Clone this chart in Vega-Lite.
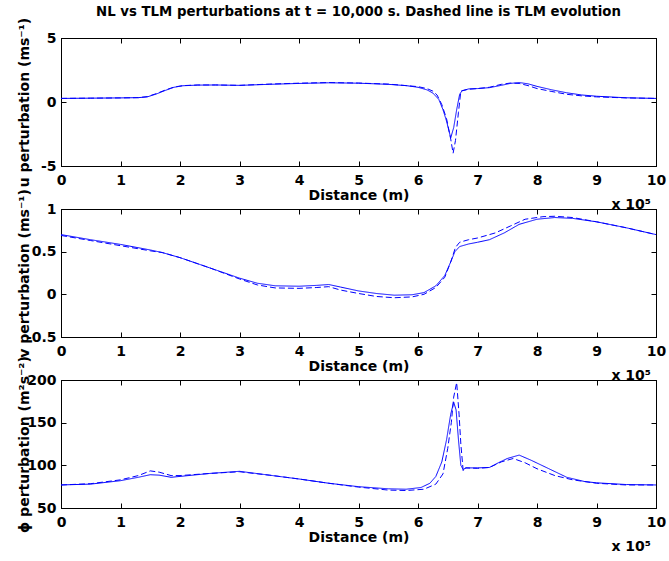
{
  "$schema": "https://vega.github.io/schema/vega-lite/v6.json",
  "background": "white",
  "padding": {"left": 16, "top": 4, "right": 0, "bottom": 0},
  "datasets": {
    "u": [
      {"x": 0, "y": 0.28, "run": "NL"}, {"x": 0.5, "y": 0.3, "run": "NL"}, {"x": 1, "y": 0.32, "run": "NL"}, {"x": 1.3, "y": 0.34, "run": "NL"}, {"x": 1.45, "y": 0.4, "run": "NL"}, {"x": 1.6, "y": 0.62, "run": "NL"}, {"x": 1.75, "y": 0.9, "run": "NL"}, {"x": 1.9, "y": 1.15, "run": "NL"}, {"x": 2.05, "y": 1.27, "run": "NL"}, {"x": 2.3, "y": 1.32, "run": "NL"}, {"x": 2.6, "y": 1.33, "run": "NL"}, {"x": 3, "y": 1.3, "run": "NL"}, {"x": 3.5, "y": 1.38, "run": "NL"}, {"x": 4, "y": 1.45, "run": "NL"}, {"x": 4.5, "y": 1.5, "run": "NL"}, {"x": 5, "y": 1.47, "run": "NL"}, {"x": 5.5, "y": 1.38, "run": "NL"}, {"x": 5.8, "y": 1.28, "run": "NL"}, {"x": 6.0, "y": 1.15, "run": "NL"}, {"x": 6.15, "y": 0.95, "run": "NL"}, {"x": 6.25, "y": 0.7, "run": "NL"}, {"x": 6.35, "y": 0.2, "run": "NL"}, {"x": 6.42, "y": -0.6, "run": "NL"}, {"x": 6.48, "y": -1.5, "run": "NL"}, {"x": 6.55, "y": -2.8, "run": "NL"}, {"x": 6.6, "y": -2.0, "run": "NL"}, {"x": 6.65, "y": -0.6, "run": "NL"}, {"x": 6.7, "y": 0.6, "run": "NL"}, {"x": 6.74, "y": 0.88, "run": "NL"}, {"x": 6.85, "y": 1.02, "run": "NL"}, {"x": 7, "y": 1.05, "run": "NL"}, {"x": 7.2, "y": 1.12, "run": "NL"}, {"x": 7.4, "y": 1.3, "run": "NL"}, {"x": 7.55, "y": 1.45, "run": "NL"}, {"x": 7.7, "y": 1.52, "run": "NL"}, {"x": 7.85, "y": 1.42, "run": "NL"}, {"x": 8, "y": 1.22, "run": "NL"}, {"x": 8.25, "y": 0.95, "run": "NL"}, {"x": 8.5, "y": 0.72, "run": "NL"}, {"x": 8.75, "y": 0.55, "run": "NL"}, {"x": 9, "y": 0.45, "run": "NL"}, {"x": 9.5, "y": 0.33, "run": "NL"}, {"x": 10, "y": 0.28, "run": "NL"},
      {"x": 0, "y": 0.28, "run": "TLM"}, {"x": 0.5, "y": 0.3, "run": "TLM"}, {"x": 1, "y": 0.32, "run": "TLM"}, {"x": 1.3, "y": 0.34, "run": "TLM"}, {"x": 1.45, "y": 0.42, "run": "TLM"}, {"x": 1.6, "y": 0.65, "run": "TLM"}, {"x": 1.75, "y": 0.93, "run": "TLM"}, {"x": 1.9, "y": 1.17, "run": "TLM"}, {"x": 2.05, "y": 1.28, "run": "TLM"}, {"x": 2.3, "y": 1.33, "run": "TLM"}, {"x": 2.6, "y": 1.33, "run": "TLM"}, {"x": 3, "y": 1.3, "run": "TLM"}, {"x": 3.5, "y": 1.4, "run": "TLM"}, {"x": 4, "y": 1.47, "run": "TLM"}, {"x": 4.5, "y": 1.52, "run": "TLM"}, {"x": 5, "y": 1.48, "run": "TLM"}, {"x": 5.5, "y": 1.4, "run": "TLM"}, {"x": 5.8, "y": 1.28, "run": "TLM"}, {"x": 6.0, "y": 1.2, "run": "TLM"}, {"x": 6.15, "y": 1.05, "run": "TLM"}, {"x": 6.25, "y": 0.85, "run": "TLM"}, {"x": 6.32, "y": 0.55, "run": "TLM"}, {"x": 6.4, "y": -0.2, "run": "TLM"}, {"x": 6.48, "y": -1.3, "run": "TLM"}, {"x": 6.55, "y": -2.9, "run": "TLM"}, {"x": 6.59, "y": -4.0, "run": "TLM"}, {"x": 6.63, "y": -3.0, "run": "TLM"}, {"x": 6.68, "y": -0.8, "run": "TLM"}, {"x": 6.72, "y": 0.85, "run": "TLM"}, {"x": 6.85, "y": 1.0, "run": "TLM"}, {"x": 7, "y": 1.05, "run": "TLM"}, {"x": 7.2, "y": 1.15, "run": "TLM"}, {"x": 7.4, "y": 1.38, "run": "TLM"}, {"x": 7.55, "y": 1.48, "run": "TLM"}, {"x": 7.7, "y": 1.45, "run": "TLM"}, {"x": 7.85, "y": 1.28, "run": "TLM"}, {"x": 8, "y": 1.05, "run": "TLM"}, {"x": 8.25, "y": 0.82, "run": "TLM"}, {"x": 8.5, "y": 0.6, "run": "TLM"}, {"x": 8.75, "y": 0.48, "run": "TLM"}, {"x": 9, "y": 0.4, "run": "TLM"}, {"x": 9.5, "y": 0.32, "run": "TLM"}, {"x": 10, "y": 0.28, "run": "TLM"}
    ],
    "v": [
      {"x": 0, "y": 0.7, "run": "NL"}, {"x": 0.5, "y": 0.64, "run": "NL"}, {"x": 1, "y": 0.585, "run": "NL"}, {"x": 1.5, "y": 0.52, "run": "NL"}, {"x": 1.7, "y": 0.49, "run": "NL"}, {"x": 2, "y": 0.43, "run": "NL"}, {"x": 2.5, "y": 0.31, "run": "NL"}, {"x": 3, "y": 0.19, "run": "NL"}, {"x": 3.3, "y": 0.13, "run": "NL"}, {"x": 3.6, "y": 0.1, "run": "NL"}, {"x": 4, "y": 0.095, "run": "NL"}, {"x": 4.3, "y": 0.105, "run": "NL"}, {"x": 4.5, "y": 0.115, "run": "NL"}, {"x": 4.7, "y": 0.085, "run": "NL"}, {"x": 5, "y": 0.04, "run": "NL"}, {"x": 5.3, "y": 0.01, "run": "NL"}, {"x": 5.6, "y": -0.01, "run": "NL"}, {"x": 5.9, "y": -0.005, "run": "NL"}, {"x": 6.1, "y": 0.02, "run": "NL"}, {"x": 6.3, "y": 0.1, "run": "NL"}, {"x": 6.45, "y": 0.22, "run": "NL"}, {"x": 6.55, "y": 0.38, "run": "NL"}, {"x": 6.62, "y": 0.5, "run": "NL"}, {"x": 6.7, "y": 0.56, "run": "NL"}, {"x": 6.85, "y": 0.59, "run": "NL"}, {"x": 7, "y": 0.61, "run": "NL"}, {"x": 7.2, "y": 0.64, "run": "NL"}, {"x": 7.45, "y": 0.72, "run": "NL"}, {"x": 7.7, "y": 0.82, "run": "NL"}, {"x": 8, "y": 0.88, "run": "NL"}, {"x": 8.3, "y": 0.9, "run": "NL"}, {"x": 8.6, "y": 0.89, "run": "NL"}, {"x": 9, "y": 0.85, "run": "NL"}, {"x": 9.5, "y": 0.78, "run": "NL"}, {"x": 10, "y": 0.7, "run": "NL"},
      {"x": 0, "y": 0.69, "run": "TLM"}, {"x": 0.5, "y": 0.63, "run": "TLM"}, {"x": 1, "y": 0.57, "run": "TLM"}, {"x": 1.5, "y": 0.51, "run": "TLM"}, {"x": 1.7, "y": 0.49, "run": "TLM"}, {"x": 2, "y": 0.43, "run": "TLM"}, {"x": 2.5, "y": 0.31, "run": "TLM"}, {"x": 3, "y": 0.18, "run": "TLM"}, {"x": 3.3, "y": 0.11, "run": "TLM"}, {"x": 3.6, "y": 0.075, "run": "TLM"}, {"x": 4, "y": 0.07, "run": "TLM"}, {"x": 4.3, "y": 0.08, "run": "TLM"}, {"x": 4.5, "y": 0.09, "run": "TLM"}, {"x": 4.7, "y": 0.05, "run": "TLM"}, {"x": 5, "y": 0.01, "run": "TLM"}, {"x": 5.3, "y": -0.025, "run": "TLM"}, {"x": 5.6, "y": -0.04, "run": "TLM"}, {"x": 5.9, "y": -0.03, "run": "TLM"}, {"x": 6.1, "y": 0.0, "run": "TLM"}, {"x": 6.3, "y": 0.08, "run": "TLM"}, {"x": 6.45, "y": 0.2, "run": "TLM"}, {"x": 6.55, "y": 0.38, "run": "TLM"}, {"x": 6.63, "y": 0.55, "run": "TLM"}, {"x": 6.7, "y": 0.61, "run": "TLM"}, {"x": 6.85, "y": 0.64, "run": "TLM"}, {"x": 7, "y": 0.66, "run": "TLM"}, {"x": 7.3, "y": 0.72, "run": "TLM"}, {"x": 7.55, "y": 0.8, "run": "TLM"}, {"x": 7.8, "y": 0.88, "run": "TLM"}, {"x": 8.1, "y": 0.91, "run": "TLM"}, {"x": 8.3, "y": 0.915, "run": "TLM"}, {"x": 8.6, "y": 0.9, "run": "TLM"}, {"x": 9, "y": 0.85, "run": "TLM"}, {"x": 9.5, "y": 0.78, "run": "TLM"}, {"x": 10, "y": 0.7, "run": "TLM"}
    ],
    "phi": [
      {"x": 0, "y": 77, "run": "NL"}, {"x": 0.5, "y": 78, "run": "NL"}, {"x": 1, "y": 82, "run": "NL"}, {"x": 1.3, "y": 86, "run": "NL"}, {"x": 1.5, "y": 89, "run": "NL"}, {"x": 1.65, "y": 88.5, "run": "NL"}, {"x": 1.85, "y": 86, "run": "NL"}, {"x": 2, "y": 87, "run": "NL"}, {"x": 2.5, "y": 90.5, "run": "NL"}, {"x": 3, "y": 93, "run": "NL"}, {"x": 3.5, "y": 88.5, "run": "NL"}, {"x": 4, "y": 84, "run": "NL"}, {"x": 4.5, "y": 79, "run": "NL"}, {"x": 5, "y": 75, "run": "NL"}, {"x": 5.5, "y": 72.5, "run": "NL"}, {"x": 5.8, "y": 72, "run": "NL"}, {"x": 6.05, "y": 74, "run": "NL"}, {"x": 6.2, "y": 79, "run": "NL"}, {"x": 6.3, "y": 87, "run": "NL"}, {"x": 6.4, "y": 104, "run": "NL"}, {"x": 6.48, "y": 130, "run": "NL"}, {"x": 6.55, "y": 160, "run": "NL"}, {"x": 6.6, "y": 174, "run": "NL"}, {"x": 6.64, "y": 165, "run": "NL"}, {"x": 6.68, "y": 130, "run": "NL"}, {"x": 6.72, "y": 100, "run": "NL"}, {"x": 6.76, "y": 95, "run": "NL"}, {"x": 6.8, "y": 97, "run": "NL"}, {"x": 7, "y": 97, "run": "NL"}, {"x": 7.2, "y": 97.5, "run": "NL"}, {"x": 7.35, "y": 103, "run": "NL"}, {"x": 7.5, "y": 108, "run": "NL"}, {"x": 7.7, "y": 112, "run": "NL"}, {"x": 7.9, "y": 106, "run": "NL"}, {"x": 8.2, "y": 96, "run": "NL"}, {"x": 8.5, "y": 86, "run": "NL"}, {"x": 8.8, "y": 81, "run": "NL"}, {"x": 9, "y": 79.5, "run": "NL"}, {"x": 9.5, "y": 77.5, "run": "NL"}, {"x": 10, "y": 77, "run": "NL"},
      {"x": 0, "y": 77, "run": "TLM"}, {"x": 0.5, "y": 78.5, "run": "TLM"}, {"x": 1, "y": 83, "run": "TLM"}, {"x": 1.3, "y": 88, "run": "TLM"}, {"x": 1.5, "y": 93.5, "run": "TLM"}, {"x": 1.65, "y": 92, "run": "TLM"}, {"x": 1.85, "y": 88, "run": "TLM"}, {"x": 2, "y": 88, "run": "TLM"}, {"x": 2.5, "y": 90.5, "run": "TLM"}, {"x": 3, "y": 92.5, "run": "TLM"}, {"x": 3.5, "y": 88.5, "run": "TLM"}, {"x": 4, "y": 84, "run": "TLM"}, {"x": 4.5, "y": 79, "run": "TLM"}, {"x": 5, "y": 74.5, "run": "TLM"}, {"x": 5.5, "y": 71, "run": "TLM"}, {"x": 5.8, "y": 70.5, "run": "TLM"}, {"x": 6.1, "y": 72, "run": "TLM"}, {"x": 6.3, "y": 78, "run": "TLM"}, {"x": 6.42, "y": 90, "run": "TLM"}, {"x": 6.5, "y": 120, "run": "TLM"}, {"x": 6.56, "y": 150, "run": "TLM"}, {"x": 6.6, "y": 180, "run": "TLM"}, {"x": 6.65, "y": 197, "run": "TLM"}, {"x": 6.69, "y": 160, "run": "TLM"}, {"x": 6.72, "y": 125, "run": "TLM"}, {"x": 6.76, "y": 93, "run": "TLM"}, {"x": 6.8, "y": 97, "run": "TLM"}, {"x": 7, "y": 96.5, "run": "TLM"}, {"x": 7.2, "y": 97.5, "run": "TLM"}, {"x": 7.4, "y": 104, "run": "TLM"}, {"x": 7.6, "y": 108, "run": "TLM"}, {"x": 7.8, "y": 103, "run": "TLM"}, {"x": 8.0, "y": 96, "run": "TLM"}, {"x": 8.3, "y": 88, "run": "TLM"}, {"x": 8.6, "y": 83, "run": "TLM"}, {"x": 9, "y": 79, "run": "TLM"}, {"x": 9.5, "y": 77, "run": "TLM"}, {"x": 10, "y": 77, "run": "TLM"}
    ]
  },
  "vconcat": [
    {
      "width": 595, "height": 128,
      "title": {"text": "NL vs TLM perturbations at t = 10,000 s. Dashed line is TLM evolution", "font": "DejaVu Sans", "fontSize": 13.3, "fontWeight": "bold", "color": "black", "anchor": "middle", "offset": -1},
      "layer": [
        {
          "data": {"name": "u"},
          "mark": {"type": "line", "color": "#0000ff", "strokeWidth": 1, "clip": true},
          "encoding": {
            "x": {"field": "x", "type": "quantitative", "scale": {"domain": [0, 10], "nice": false}, "axis": {"orient": "bottom", "values": [0,1,2,3,4,5,6,7,8,9,10], "title": "Distance (m)"}},
            "y": {"field": "y", "type": "quantitative", "scale": {"domain": [-5, 5], "nice": false}, "axis": {"orient": "left", "values": [-5, 0, 5], "title": "u perturbation (ms⁻¹)"}},
            "strokeDash": {"field": "run", "type": "nominal", "scale": {"domain": ["NL", "TLM"], "range": [[1, 0], [6, 3]]}, "legend": null}
          }
        },
        {
          "data": {"values": [{}]},
          "mark": {"type": "text", "text": "x 10⁵", "align": "right", "baseline": "top", "dy": 32, "dx": -5, "font": "DejaVu Sans", "fontSize": 14, "fontWeight": "bold", "color": "black"},
          "encoding": {
            "x": {"datum": 10, "type": "quantitative", "axis": {"orient": "top", "labels": false, "title": null, "values": [0,1,2,3,4,5,6,7,8,9,10]}},
            "y": {"datum": -5, "type": "quantitative", "axis": {"orient": "right", "labels": false, "title": null, "values": [-5, 0, 5]}}
          }
        }
      ],
      "resolve": {"axis": {"x": "independent", "y": "independent"}}
    },
    {
      "width": 595, "height": 128,
      "layer": [
        {
          "data": {"name": "v"},
          "mark": {"type": "line", "color": "#0000ff", "strokeWidth": 1, "clip": true},
          "encoding": {
            "x": {"field": "x", "type": "quantitative", "scale": {"domain": [0, 10], "nice": false}, "axis": {"orient": "bottom", "values": [0,1,2,3,4,5,6,7,8,9,10], "title": "Distance (m)"}},
            "y": {"field": "y", "type": "quantitative", "scale": {"domain": [-0.5, 1], "nice": false}, "axis": {"orient": "left", "values": [-0.5, 0, 0.5, 1], "title": "v perturbation (ms⁻¹)"}},
            "strokeDash": {"field": "run", "type": "nominal", "scale": {"domain": ["NL", "TLM"], "range": [[1, 0], [6, 3]]}, "legend": null}
          }
        },
        {
          "data": {"values": [{}]},
          "mark": {"type": "text", "text": "x 10⁵", "align": "right", "baseline": "top", "dy": 32, "dx": -5, "font": "DejaVu Sans", "fontSize": 14, "fontWeight": "bold", "color": "black"},
          "encoding": {
            "x": {"datum": 10, "type": "quantitative", "axis": {"orient": "top", "labels": false, "title": null, "values": [0,1,2,3,4,5,6,7,8,9,10]}},
            "y": {"datum": -0.5, "type": "quantitative", "axis": {"orient": "right", "labels": false, "title": null, "values": [-0.5, 0, 0.5, 1]}}
          }
        }
      ],
      "resolve": {"axis": {"x": "independent", "y": "independent"}}
    },
    {
      "width": 595, "height": 128,
      "layer": [
        {
          "data": {"name": "phi"},
          "mark": {"type": "line", "color": "#0000ff", "strokeWidth": 1, "clip": true},
          "encoding": {
            "x": {"field": "x", "type": "quantitative", "scale": {"domain": [0, 10], "nice": false}, "axis": {"orient": "bottom", "values": [0,1,2,3,4,5,6,7,8,9,10], "title": "Distance (m)"}},
            "y": {"field": "y", "type": "quantitative", "scale": {"domain": [50, 200], "nice": false}, "axis": {"orient": "left", "values": [50, 100, 150, 200], "title": "ϕ perturbation (m²s⁻²)"}},
            "strokeDash": {"field": "run", "type": "nominal", "scale": {"domain": ["NL", "TLM"], "range": [[1, 0], [6, 3]]}, "legend": null}
          }
        },
        {
          "data": {"values": [{}]},
          "mark": {"type": "text", "text": "x 10⁵", "align": "right", "baseline": "top", "dy": 32, "dx": -5, "font": "DejaVu Sans", "fontSize": 14, "fontWeight": "bold", "color": "black"},
          "encoding": {
            "x": {"datum": 10, "type": "quantitative", "axis": {"orient": "top", "labels": false, "title": null, "values": [0,1,2,3,4,5,6,7,8,9,10]}},
            "y": {"datum": 50, "type": "quantitative", "axis": {"orient": "right", "labels": false, "title": null, "values": [50, 100, 150, 200]}}
          }
        }
      ],
      "resolve": {"axis": {"x": "independent", "y": "independent"}}
    }
  ],
  "spacing": 43,
  "bounds": "flush",
  "config": {
    "view": {"stroke": "black", "strokeWidth": 1, "fill": "white"},
    "axis": {
      "grid": false,
      "domainColor": "black",
      "tickColor": "black",
      "tickSize": -5,
      "labelFlush": false,
      "labelOverlap": false,
      "labelFont": "DejaVu Sans",
      "labelFontWeight": "bold",
      "labelFontSize": 14,
      "labelColor": "black",
      "labelExpr": "toString(datum.value)",
      "titleFont": "DejaVu Sans",
      "titleFontWeight": "bold",
      "titleFontSize": 14,
      "titleColor": "black"
    },
    "axisLeft": {"labelPadding": 10, "titleX": -33, "titleY": 64, "titleBaseline": "alphabetic", "titleAngle": -90},
    "axisBottom": {"labelPadding": 12, "titleY": 33, "titleBaseline": "alphabetic"}
  }
}
